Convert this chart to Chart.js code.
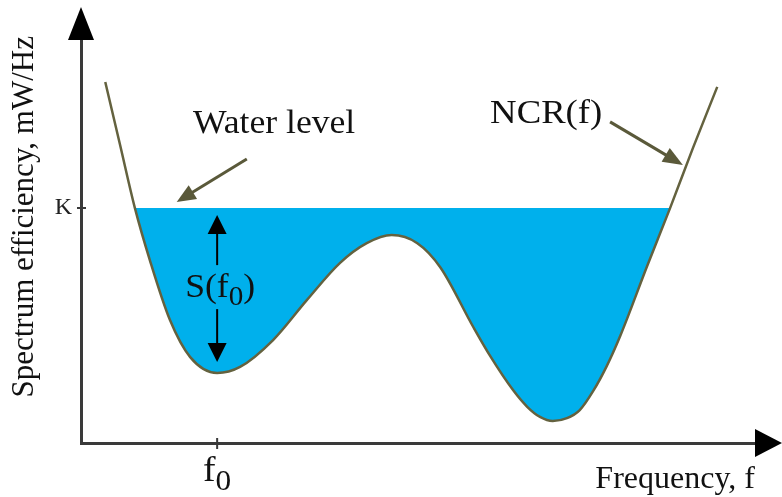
<!DOCTYPE html>
<html>
<head>
<meta charset="utf-8">
<script src="https://cdn.jsdelivr.net/npm/chart.js@4.4.1/dist/chart.umd.min.js"></script>
<style>
  html, body { margin: 0; padding: 0; background: #fff; }
  canvas { display: block; }
</style>
</head>
<body>
<canvas id="chart" width="782" height="497"></canvas>
<script>
// NCR(f) curve (arbitrary units, 0-100 on both axes)
const freq = [3.6, 5.8, 8.0, 10.2, 13.2, 16.2, 20.2, 23.6, 28.5, 33.5, 38.4, 42.4, 46.1, 49.9,
              53.3, 58.2, 60.7, 64.1, 66.2, 68.1, 70.0, 72.1, 74.0, 76.0, 78.0, 80.0, 84.0,
              87.4, 90.8, 94.4];
const ncr = [88.7, 73.2, 57.7, 45.0, 30.2, 21.1, 17.2, 18.7, 25.3, 35.1, 44.2, 49.1, 51.1, 49.1,
             43.2, 28.5, 21.4, 13.0, 8.9, 6.4, 5.4, 6.1, 8.1, 12.8, 18.9, 26.3, 43.5,
             57.7, 72.5, 87.5];

const waterLevel = 57.74;   // K
const f0 = 20.2;
const yTickLabels = ['K'];
const xTickLabels = ['f', '0'];   // f with subscript 0

const serif = '"Liberation Serif", "Times New Roman", serif';
const axisColor = '#3a3a3a';
const curveColor = '#64623f';
const waterColor = '#00b0ec';
const pointerColor = '#5a593a';
const stretch = 1.08;   // the source lettering is a little wider than Times

function arrow(ctx, x1, y1, x2, y2, width, len, half, color) {
  const a = Math.atan2(y2 - y1, x2 - x1);
  ctx.beginPath();
  ctx.moveTo(x1, y1);
  ctx.lineTo(x2 - Math.cos(a) * len * 0.8, y2 - Math.sin(a) * len * 0.8);
  ctx.strokeStyle = color;
  ctx.lineWidth = width;
  ctx.stroke();
  ctx.save();
  ctx.translate(x2, y2);
  ctx.rotate(a);
  ctx.beginPath();
  ctx.moveTo(0, 0);
  ctx.lineTo(-len, -half);
  ctx.lineTo(-len, half);
  ctx.closePath();
  ctx.fillStyle = color;
  ctx.fill();
  ctx.restore();
}

function wideText(ctx, text, x, base, size) {
  ctx.save();
  ctx.font = size + 'px ' + serif;
  ctx.textAlign = 'left';
  ctx.textBaseline = 'alphabetic';
  ctx.translate(x, base);
  ctx.scale(stretch, 1);
  ctx.fillText(text, 0, 0);
  ctx.restore();
}

// text with a subscript part: [main, sub, tail], centred on cx
function subText(ctx, parts, cx, base, size) {
  ctx.save();
  ctx.textBaseline = 'alphabetic';
  ctx.textAlign = 'left';
  const big = size + 'px ' + serif, small = Math.round(size * 0.82) + 'px ' + serif;
  ctx.font = big;
  const w1 = ctx.measureText(parts[0]).width, w3 = ctx.measureText(parts[2] || '').width;
  ctx.font = small;
  const w2 = ctx.measureText(parts[1]).width;
  ctx.translate(cx, base);
  ctx.scale(stretch, 1);
  const x0 = -(w1 + w2 + w3) / 2;
  ctx.font = big;
  ctx.fillText(parts[0], x0, 0);
  ctx.font = small;
  ctx.fillText(parts[1], x0 + w1, size * 0.25);
  if (parts[2]) {
    ctx.font = big;
    ctx.fillText(parts[2], x0 + w1 + w2, 0);
  }
  ctx.restore();
}

const annotate = {
  id: 'annotate',
  afterDraw(chart) {
    const {ctx, chartArea: ca, scales: {x, y}} = chart;
    const X = v => x.getPixelForValue(v), Y = v => y.getPixelForValue(v);
    ctx.save();

    // axis arrow heads
    ctx.fillStyle = '#000';
    ctx.beginPath();
    ctx.moveTo(ca.left, ca.top - 29);
    ctx.lineTo(ca.left - 13, ca.top + 4);
    ctx.lineTo(ca.left + 13, ca.top + 4);
    ctx.closePath();
    ctx.fill();
    ctx.beginPath();
    ctx.moveTo(ca.right + 27, ca.bottom);
    ctx.lineTo(ca.right, ca.bottom - 14);
    ctx.lineTo(ca.right, ca.bottom + 14);
    ctx.closePath();
    ctx.fill();

    // tick marks across the axes
    ctx.strokeStyle = axisColor;
    ctx.lineWidth = 2;
    ctx.beginPath();
    ctx.moveTo(ca.left - 4, Y(waterLevel));
    ctx.lineTo(ca.left + 5, Y(waterLevel));
    ctx.moveTo(X(f0), ca.bottom - 5);
    ctx.lineTo(X(f0), ca.bottom + 6);
    ctx.stroke();

    ctx.fillStyle = '#111';
    subText(ctx, [xTickLabels[0], xTickLabels[1], ''], X(f0), 481, 35);

    // Water level pointer
    wideText(ctx, 'Water level', X(16.6), Y(76.2), 33);
    arrow(ctx, X(24.6), Y(69.8), X(14.2), Y(59.2), 3, 19, 8, pointerColor);

    // NCR(f) pointer
    ctx.fillStyle = '#111';
    wideText(ctx, 'NCR(f)', X(60.7), Y(78.6), 34);
    arrow(ctx, X(78.5), Y(78.9), X(89.3), Y(68.3), 3, 20, 8, pointerColor);

    // S(f0) double arrow
    const cx = X(f0), mid = Y(38.3);
    arrow(ctx, cx, mid - 22, cx, Y(56.0), 2, 19, 9.5, '#000');
    arrow(ctx, cx, mid + 22, cx, Y(19.9), 2, 19, 9.5, '#000');
    ctx.fillStyle = '#111';
    subText(ctx, ['S(f', '0', ')'], cx + 3, mid + 10, 33);

    ctx.restore();
  }
};

new Chart(document.getElementById('chart'), {
  type: 'line',
  data: {
    datasets: [{
      label: 'NCR(f)',
      data: freq.map((f, i) => ({x: f, y: ncr[i]})),
      borderColor: curveColor,
      borderWidth: 2.5,
      pointRadius: 0,
      cubicInterpolationMode: 'monotone',
      fill: {target: {value: waterLevel}, above: 'rgba(0,0,0,0)', below: waterColor}
    }]
  },
  options: {
    responsive: false,
    animation: false,
    devicePixelRatio: 1,
    layout: {padding: {top: 36, right: 27, left: 0, bottom: 0}},
    plugins: {legend: {display: false}, tooltip: {enabled: false}},
    scales: {
      x: {
        type: 'linear', min: 0, max: 100,
        afterFit: s => { s.height = 54; },
        afterBuildTicks: s => { s.ticks = [{value: f0}]; },
        ticks: {display: false},
        grid: {display: false, drawTicks: false},
        border: {display: true, color: axisColor, width: 3},
        title: {
          display: true, text: 'Frequency, f', align: 'end', color: '#111',
          font: {family: serif, size: 32, lineHeight: 1.1}, padding: 0
        }
      },
      y: {
        type: 'linear', min: 0, max: 100,
        afterFit: s => { s.width = 81; },
        afterBuildTicks: s => { s.ticks = [{value: waterLevel}]; },
        ticks: {
          callback: () => yTickLabels[0],
          color: '#222', padding: 9,
          font: {family: serif, size: 24}
        },
        grid: {display: false, drawTicks: false},
        border: {display: true, color: axisColor, width: 3},
        title: {
          display: true, text: 'Spectrum efficiency, mW/Hz', align: 'end', color: '#111',
          font: {family: serif, size: 31}, padding: {top: 6, bottom: 0}
        }
      }
    }
  },
  plugins: [annotate]
});
</script>
</body>
</html>
